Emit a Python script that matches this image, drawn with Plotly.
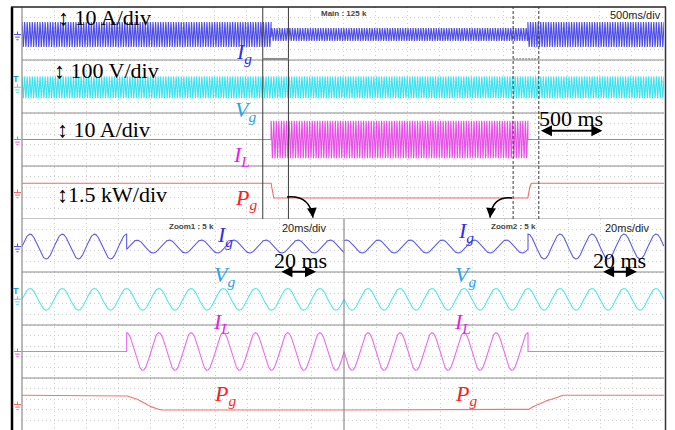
import numpy as np
import plotly.graph_objects as go

# ---------------- data ----------------
CHANNELS = ["Ig", "Vg", "IL", "Pg"]
SCALE_PER_DIV = [10.0, 100.0, 10.0, 1.5]   # A/div, V/div, A/div, kW/div
OFFSET_DIV = [6.96, 4.97, 3.0, 1.0]        # channel ground level (div above bottom)
TRACE_COLORS = ["#4f4fe6", "#3fe2ee", "#e652e6", "#f06a6a"]
ZOOM_TRACE_COLORS = ["#5c5ce8", "#52e6f0", "#ec6cec", "#f27474"]
LABEL_COLORS = ["#3030e8", "#2aa4e8", "#e81ee8", "#ff1e1e"]

GRID_FREQ_HZ = 50.0
VG_PEAK_V = 41.0
IG_PEAK_NORMAL_A = 4.7
IG_PEAK_COMP_A = 2.45
IG_COMP_LAG_DEG = 115.0
IL_PEAK_A = 7.1
PG_NORMAL_KW = 0.52
PG_COMP_KW = -0.31

T_ON_S = 1.940
T_OFF_S = 3.940
MAIN_SPAN_S = 5.0            # 10 div x 500 ms
ZOOM_START_S = [1.875, 3.825]
ZOOM_SPAN_MS = 200.0         # 10 div x 20 ms

PG_ON_RAMP_MS = [0.0, 2.1, 6.2, 10.3, 13.4, 16.6, 19.7, 21.0]
PG_ON_RAMP_KW = [0.52, 0.41, 0.33, 0.10, -0.08, -0.16, -0.27, -0.31]
PG_OFF_RAMP_MS = [0.0, 2.1, 8.4, 12.5, 16.7, 20.9]
PG_OFF_RAMP_KW = [-0.31, -0.16, 0.07, 0.25, 0.33, 0.52]

# ---------------- signal model ----------------
W = 2 * np.pi * GRID_FREQ_HZ


def in_comp(t):
    return (t >= T_ON_S) & (t < T_OFF_S)


def sig_vg(t):
    return VG_PEAK_V * np.cos(W * (t - T_ON_S))


def sig_ig(t):
    big = IG_PEAK_NORMAL_A * np.cos(W * (t - T_ON_S))
    small = IG_PEAK_COMP_A * np.cos(W * (t - T_ON_S) - np.radians(IG_COMP_LAG_DEG))
    return np.where(in_comp(t), small, big)


def sig_il(t):
    return np.where(in_comp(t), IL_PEAK_A * np.cos(W * (t - T_ON_S)), 0.0)


def sig_pg(t):
    on = np.interp((t - T_ON_S) * 1000, PG_ON_RAMP_MS, PG_ON_RAMP_KW)
    off = np.interp((t - T_OFF_S) * 1000, PG_OFF_RAMP_MS, PG_OFF_RAMP_KW)
    return np.where(t < T_ON_S, PG_NORMAL_KW, np.where(t < T_OFF_S, on, off))


SIGNALS = [sig_ig, sig_vg, sig_il, sig_pg]


def to_div(i, v):
    return OFFSET_DIV[i] + v / SCALE_PER_DIV[i]


def time_vector(t0, t1, step):
    t = np.arange(t0, t1 + step / 2, step)
    extra = [x - 1e-9 for x in (T_ON_S, T_OFF_S) if t0 < x < t1]
    extra += [x for x in (T_ON_S, T_OFF_S) if t0 < x < t1]
    t = np.sort(np.concatenate([t, np.array(extra)]))
    return t[(t >= t0) & (t <= t1)]


fig = go.Figure()

# main (500 ms/div) view
t_main = time_vector(0.0, MAIN_SPAN_S, 0.001)
for i, f in enumerate(SIGNALS):
    fig.add_trace(go.Scatter(x=t_main, y=to_div(i, f(t_main)), mode="lines",
                             line=dict(color=TRACE_COLORS[i], width=1.1),
                             xaxis="x", yaxis="y", hoverinfo="skip"))

# zoom views (20 ms/div)
for k, (t0, xa, ya) in enumerate(zip(ZOOM_START_S, ["x2", "x3"], ["y2", "y3"])):
    tz = time_vector(t0, t0 + ZOOM_SPAN_MS / 1000, 0.0001)
    for i, f in enumerate(SIGNALS):
        fig.add_trace(go.Scatter(x=(tz - t0) * 1000, y=to_div(i, f(tz)), mode="lines",
                                 line=dict(color=ZOOM_TRACE_COLORS[i], width=1.1),
                                 xaxis=xa, yaxis=ya, hoverinfo="skip"))

# ---------------- layout ----------------
W_PX, H_PX = 675, 430
L, R, TOP, MID, BOT = 22, 664, 7, 219, 430
PX_PER_DIV = (MID - TOP) / 8.0


def px(x):
    return x / W_PX


def py(y):
    return 1 - y / H_PX


grid = dict(showgrid=True, gridcolor="#cfcfcf", griddash="1px,3px", gridwidth=1,
            showticklabels=False, zeroline=False, showline=False, ticks="",
            fixedrange=True)
bot_range = [(MID + 8 * PX_PER_DIV - BOT) / PX_PER_DIV, 8]

fig.update_layout(
    width=W_PX, height=H_PX, margin=dict(l=0, r=0, t=0, b=0),
    paper_bgcolor="white", plot_bgcolor="white", showlegend=False, hovermode=False,
    xaxis=dict(domain=[px(L), px(R)], range=[0, MAIN_SPAN_S], dtick=0.25, tick0=0, anchor="y", **grid),
    yaxis=dict(domain=[py(MID), py(TOP)], range=[0, 8], dtick=0.4, tick0=0, anchor="x", **grid),
    xaxis2=dict(domain=[px(L), px(344)], range=[0, ZOOM_SPAN_MS], dtick=20, tick0=0, anchor="y2", **grid),
    yaxis2=dict(domain=[0, py(MID)], range=bot_range, dtick=0.4, tick0=0, anchor="x2", **grid),
    xaxis3=dict(domain=[px(344), px(R)], range=[0, ZOOM_SPAN_MS], dtick=20, tick0=0, anchor="y3", **grid),
    yaxis3=dict(domain=[0, py(MID)], range=bot_range, dtick=0.4, tick0=0, anchor="x3", **grid),
)

shapes = []
SEP = "#8c8c8c"
# pane separators
for y in [0, 2, 4, 6]:
    shapes.append(dict(type="line", xref="paper", yref="y", x0=px(L), x1=px(R), y0=y, y1=y,
                       line=dict(color=SEP, width=1.2), layer="above"))
for y in [2, 4, 6]:
    shapes.append(dict(type="line", xref="paper", yref="y2", x0=px(L), x1=px(R), y0=y, y1=y,
                       line=dict(color=SEP, width=1.2), layer="above"))
# divider between zoom windows
shapes.append(dict(type="line", xref="paper", yref="paper", x0=px(344), x1=px(344), y0=0, y1=py(MID),
                   line=dict(color=SEP, width=1.2), layer="above"))
# left grid border
shapes.append(dict(type="line", xref="paper", yref="paper", x0=px(L), x1=px(L), y0=0, y1=py(TOP),
                   line=dict(color=SEP, width=1.2), layer="above"))
# outer frame
shapes.append(dict(type="line", xref="paper", yref="paper", x0=px(12), x1=px(12), y0=0, y1=py(TOP),
                   line=dict(color="black", width=2.5), layer="above"))
shapes.append(dict(type="line", xref="paper", yref="paper", x0=px(11), x1=px(666), y0=py(TOP), y1=py(TOP),
                   line=dict(color="#222", width=1.5), layer="above"))
shapes.append(dict(type="line", xref="paper", yref="paper", x0=px(665.5), x1=px(665.5), y0=0, y1=py(TOP),
                   line=dict(color="#333", width=1.5), layer="above"))
# zoom window markers in main view
for k in range(2):
    a = ZOOM_START_S[k]
    b = a + ZOOM_SPAN_MS / 1000
    for xv in (a, b):
        shapes.append(dict(type="line", xref="x", yref="y", x0=xv, x1=xv, y0=0, y1=8,
                           line=dict(color="#3a3a3a", width=1, dash="solid" if k == 0 else "3px,2px"),
                           layer="above"))
    shapes.append(dict(type="line", xref="x", yref="y", x0=a, x1=b, y0=6.04, y1=6.04,
                       line=dict(color="#8a8a8a", width=2 if k == 0 else 1.2,
                                 dash="solid" if k == 0 else "2px,1px"), layer="above"))

# ground symbols
for yref in ["y", "y2"]:
    for i in range(4):
        g = OFFSET_DIV[i]
        c = TRACE_COLORS[i]
        d = 1 / PX_PER_DIV
        shapes.append(dict(type="line", xref="paper", yref=yref, x0=px(17.5), x1=px(17.5),
                           y0=g, y1=g + 3 * d, line=dict(color=c, width=1)))
        for j, hw in enumerate([3.5, 2.3, 1.1]):
            shapes.append(dict(type="line", xref="paper", yref=yref, x0=px(17.5 - hw), x1=px(17.5 + hw),
                               y0=g - j * 2.6 * d, y1=g - j * 2.6 * d, line=dict(color=c, width=1)))

# curved arrows from main view to zoom views
CURVES = [((2.064, 0.83), (2.243, 0.905), (2.266, 0.05), (-1, -9)),
          ((3.816, 0.79), (3.66, 0.87), (3.645, 0.05), (1, -9))]
ann = []
for (p0, pc, p1, tail) in CURVES:
    shapes.append(dict(type="path", xref="x", yref="y",
                       path=f"M {p0[0]},{p0[1]} Q {pc[0]},{pc[1]} {p1[0]},{p1[1]}",
                       line=dict(color="black", width=1.5), layer="above"))
    ann.append(dict(x=p1[0], y=p1[1], xref="x", yref="y", ax=tail[0], ay=tail[1], text="",
                    showarrow=True, arrowhead=2, arrowsize=1.3, arrowwidth=1.5, arrowcolor="black"))

SERIF = "Liberation Serif"
SANS = "Liberation Sans"


def label(text, x, y, xr, yr, color="black", size=22, family=SERIF, anchor="center"):
    ann.append(dict(text=text, x=x, y=y, xref=xr, yref=yr, showarrow=False, xanchor=anchor,
                    yanchor="middle", font=dict(family=family, size=size, color=color)))


def dbl_arrow(x0, x1, y, xr, yr):
    ann.append(dict(x=x1, y=y, ax=x0, ay=y, xref=xr, yref=yr, axref=xr, ayref=yr, text="",
                    showarrow=True, arrowhead=2, arrowside="end+start", arrowsize=1.1,
                    arrowwidth=2, arrowcolor="black"))


# main view texts
label("↕ 10 A/div", 0.265, 7.6, "x", "y", anchor="left")
label("↕ 100 V/div", 0.234, 5.62, "x", "y", anchor="left")
label("↕ 10 A/div", 0.257, 3.38, "x", "y", anchor="left")
label("↕1.5 kW/div", 0.257, 0.906, "x", "y", anchor="left")
NAMES = ["<i>I<sub>g</sub></i>", "<i>V<sub>g</sub></i>", "<i>I<sub>L</sub></i>", "<i>P<sub>g</sub></i>"]
MAIN_LABEL_POS = [(1.73, 6.26), (1.74, 4.07), (1.71, 2.38), (1.745, 0.75)]
for i, (x, y) in enumerate(MAIN_LABEL_POS):
    label(NAMES[i], x, y, "x", "y", color=LABEL_COLORS[i])
label("<b>Main : 125 k</b>", 2.51, 7.74, "x", "y", color="#444", size=8, family=SANS)
label("500ms/div", 4.99, 7.7, "x", "y", color="#222", size=11, family=SANS, anchor="right")
label("500 ms", 4.01, 3.81, "x", "y", anchor="left")
dbl_arrow(4.03, 4.52, 3.33, "x", "y")

# zoom view texts
ZOOM_LABEL_POS = [[(126, 7.36), (126, 5.85), (124, 4.08), (126, 1.36)],
                  [(76, 7.5), (76, 5.85), (74, 4.08), (76, 1.36)]]
for k, (xr, yr) in enumerate([("x2", "y2"), ("x3", "y3")]):
    for i, (x, y) in enumerate(ZOOM_LABEL_POS[k]):
        label(NAMES[i], x, y, xr, yr, color=LABEL_COLORS[i])
    label(f"<b>Zoom{k + 1} : 5 k</b>", [105, 106][k], 7.7, xr, yr, color="#444", size=8, family=SANS)
    label("20ms/div", [175.5, 177][k], 7.66, xr, yr, color="#222", size=11, family=SANS)
    label("20 ms", [173, 172][k], 6.45, xr, yr)
    dbl_arrow([160.2, 161][k], [182.6, 183][k], 6.01, xr, yr)

# trigger marks for the voltage channel
for yr in ["y", "y2"]:
    label("<b>T</b>", px(16), OFFSET_DIV[1] + 0.3, "paper", yr, color="#1a9ec0", size=9, family=SANS)

fig.update_layout(shapes=shapes, annotations=ann)
fig.write_html("out.html", config={"displayModeBar": False},
               post_script="document.body.style.margin='0';document.body.style.padding='0';")
